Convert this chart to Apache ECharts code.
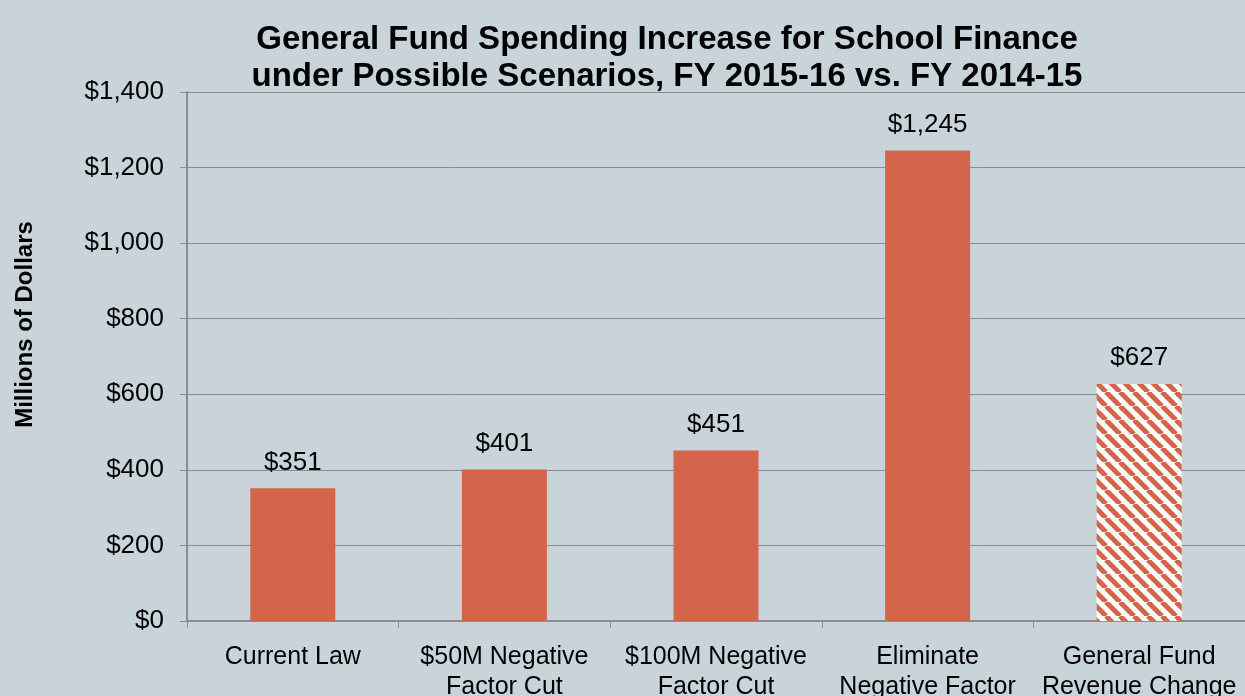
<!DOCTYPE html>
<html>
<head>
<meta charset="utf-8">
<script src="https://cdn.jsdelivr.net/npm/echarts@6/dist/echarts.min.js"></script>
<style>
  html, body { margin: 0; padding: 0; background: #c8d3da; }
  #chart { width: 1245px; height: 696px; }
</style>
</head>
<body>
<div id="chart"></div>
<script>
const categories = ['Current Law', '$50M Negative\nFactor Cut', '$100M Negative\nFactor Cut', 'Eliminate\nNegative Factor', 'General Fund\nRevenue Change'];
const values = [351, 401, 451, 1245, 627];
const hatched = [false, false, false, false, true];

const barColor = '#d4654a';

// diagonal stripe pattern for the revenue bar
function stripes() {
  const s = 14;
  const c = document.createElement('canvas');
  c.width = s; c.height = s;
  const g = c.getContext('2d');
  g.fillStyle = '#ffffff';
  g.fillRect(0, 0, s, s);
  g.strokeStyle = barColor;
  g.lineWidth = 5;
  for (let k = -1; k <= 1; k++) {
    g.beginPath();
    g.moveTo(k * s, 0);
    g.lineTo(k * s + s, s);
    g.stroke();
  }
  return c;
}

const fmt = v => '$' + v.toLocaleString('en-US');

const chart = echarts.init(document.getElementById('chart'));
chart.setOption({
  backgroundColor: '#c8d3da',
  animation: false,
  title: {
    text: 'General Fund Spending Increase for School Finance\nunder Possible Scenarios, FY 2015-16 vs. FY 2014-15',
    left: 662, top: 16, textAlign: 'center',
    textStyle: { fontFamily: 'Liberation Sans', fontSize: 33, fontWeight: 'bold', color: '#000', lineHeight: 37 }
  },
  grid: { left: 187, right: 0, top: 92, bottom: 75, outerBoundsMode: 'none' },
  xAxis: {
    type: 'category',
    data: categories,
    axisLine: { lineStyle: { color: '#8c8c8c', width: 2 } },
    axisTick: { show: true, length: 7, lineStyle: { color: '#8c8c8c' } },
    axisLabel: { interval: 0, color: '#000', fontFamily: 'Liberation Sans', fontSize: 25, lineHeight: 30, margin: 21 }
  },
  yAxis: {
    type: 'value',
    min: 0, max: 1400, interval: 200,
    name: 'Millions of Dollars',
    nameLocation: 'middle',
    nameGap: 150,
    nameTextStyle: { fontFamily: 'Liberation Sans', fontSize: 24, fontWeight: 'bold', color: '#000', padding: [0, 0, 0, 64] },
    axisLine: { show: true, lineStyle: { color: '#8c8c8c', width: 2 } },
    axisTick: { show: true, length: 7, lineStyle: { color: '#8c8c8c' } },
    splitLine: { lineStyle: { color: '#8a8a8a', width: 1 } },
    axisLabel: { color: '#000', fontFamily: 'Liberation Sans', fontSize: 26, margin: 23, formatter: fmt }
  },
  series: [{
    type: 'bar',
    barWidth: 85,
    data: values.map((v, i) => ({
      value: v,
      itemStyle: { color: hatched[i] ? { image: stripes(), repeat: 'repeat' } : barColor }
    })),
    label: {
      show: true, position: 'top', distance: 13,
      fontFamily: 'Liberation Sans', fontSize: 26, color: '#000',
      formatter: p => fmt(p.value)
    }
  }]
});
</script>
</body>
</html>
